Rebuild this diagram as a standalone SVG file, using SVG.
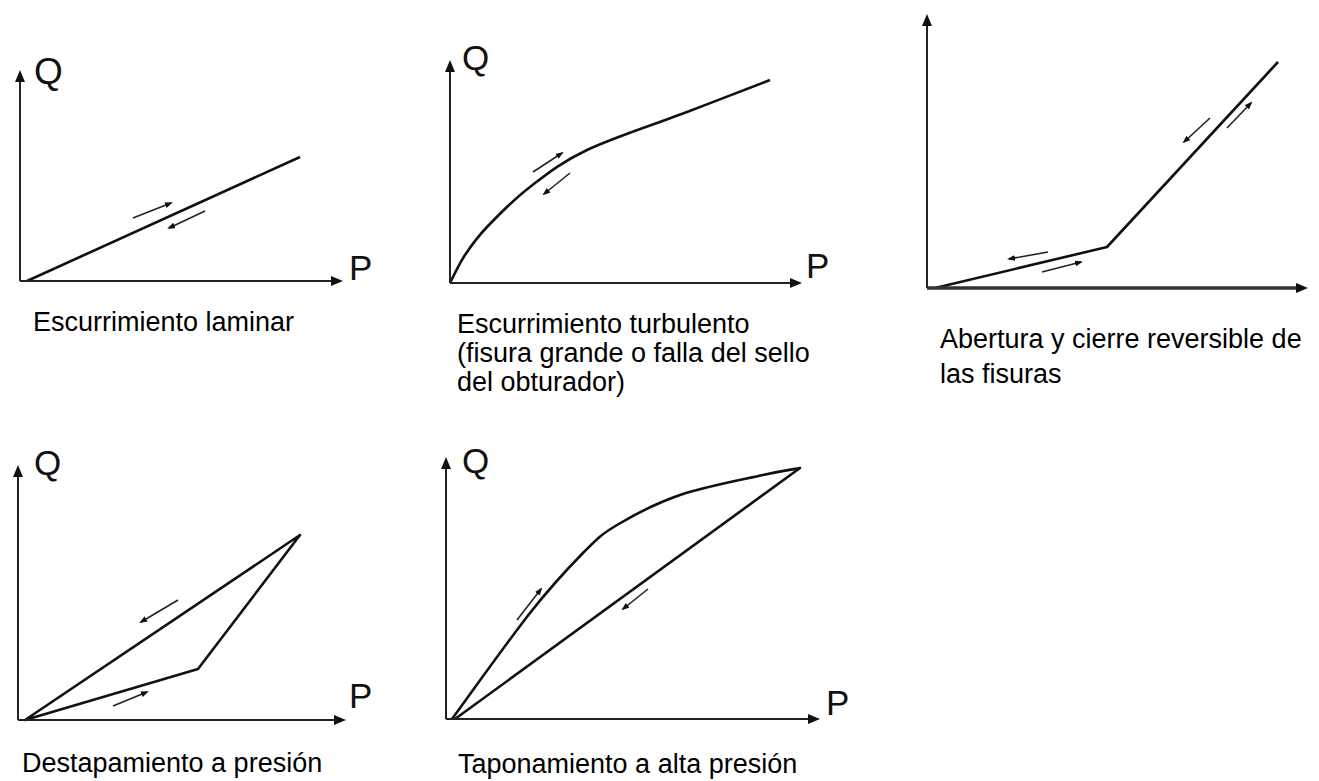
<svg xmlns="http://www.w3.org/2000/svg" width="1319" height="781" viewBox="0 0 1319 781">
<defs>
<style>
.bg{fill:#ffffff}
.axis{stroke:#222;stroke-width:2;fill:none}
.axis3{stroke:#333;stroke-width:3.5;fill:none}
.curve{stroke:#111;stroke-width:2.6;fill:none;stroke-linejoin:round}
.small{stroke:#222;stroke-width:1.6;fill:none}
.lbl{font-family:"Liberation Sans",Arial,sans-serif;font-size:27px;fill:#000}
.ax{font-family:"Liberation Sans",Arial,sans-serif;font-size:35px;fill:#111}
</style>
<marker id="ah" viewBox="0 0 12 10" refX="8" refY="5" markerWidth="12" markerHeight="10" markerUnits="userSpaceOnUse" orient="auto">
<path d="M0,0 L12,5 L0,10 z" fill="#111"/>
</marker>
<marker id="sh" viewBox="0 0 8 6" refX="6" refY="3" markerWidth="8" markerHeight="6" markerUnits="userSpaceOnUse" orient="auto">
<path d="M0,0 L8,3 L0,6 z" fill="#111"/>
</marker>
</defs>
<rect class="bg" x="0" y="0" width="1319" height="781"/>

<g id="panel1">
<text class="ax" x="34" y="84" style="font-size:37px">Q</text>
<text class="ax" x="349" y="280">P</text>
<path class="curve" d="M27,281 L300,157"/>
<text class="lbl" x="33" y="331">Escurrimiento laminar</text>
</g>

<g id="panel2">
<text class="ax" x="462" y="70">Q</text>
<text class="ax" x="806" y="278">P</text>
<path class="curve" d="M450,283 C452.5,278.3 458.8,264.3 465,255 C471.2,245.7 476.2,238.3 487,227 C497.8,215.7 513.3,199.8 530,187 C546.7,174.2 560.8,162.5 587,150 C613.2,137.5 656.5,123.7 687,112 C717.5,100.3 756.2,85.3 770,80"/>
<text class="lbl" x="457" y="333">Escurrimiento turbulento</text>
<text class="lbl" x="457" y="362">(fisura grande o falla del sello</text>
<text class="lbl" x="457" y="391">del obturador)</text>
</g>

<g id="panel3">
<path class="curve" d="M935,288 L1107,247 L1278,62"/>
<text class="lbl" x="940" y="348">Abertura y cierre reversible de</text>
<text class="lbl" x="940" y="383">las fisuras</text>
</g>

<g id="panel4">
<text class="ax" x="34" y="475">Q</text>
<text class="ax" x="349" y="708">P</text>
<path class="curve" d="M25,720 L198,669 L300,535 Z"/>
<text class="lbl" x="22" y="772">Destapamiento a presión</text>
</g>

<g id="panel5">
<text class="ax" x="462" y="473">Q</text>
<text class="ax" x="826" y="715">P</text>
<path class="curve" d="M452,719 C465,701.3 508.2,640.7 530,613 C551.8,585.3 568.5,567.7 583,553 C597.5,538.3 600.8,534.7 617,525 C633.2,515.3 655.7,503.3 680,495 C704.3,486.7 743,479.5 763,475 C783,470.5 793.8,469.2 800,468 L455,719"/>
<text class="lbl" x="458" y="773">Taponamiento a alta presión</text>
</g>

<g id="connectors">
<line class="axis" x1="20" y1="281" x2="20" y2="74" marker-end="url(#ah)"/>
<line class="axis" x1="20" y1="281" x2="339" y2="281" marker-end="url(#ah)"/>
<line class="axis" x1="450" y1="283" x2="450" y2="64" marker-end="url(#ah)"/>
<line class="axis" x1="450" y1="283" x2="798" y2="283" marker-end="url(#ah)"/>
<line class="axis" x1="927" y1="288" x2="927" y2="18" marker-end="url(#ah)"/>
<line class="axis3" x1="927" y1="288" x2="1304" y2="288" marker-end="url(#ah)"/>
<line class="axis" x1="18" y1="720" x2="18" y2="469" marker-end="url(#ah)"/>
<line class="axis" x1="18" y1="720" x2="342" y2="720" marker-end="url(#ah)"/>
<line class="axis" x1="446" y1="719" x2="446" y2="461" marker-end="url(#ah)"/>
<line class="axis" x1="446" y1="719" x2="816" y2="719" marker-end="url(#ah)"/>
<line class="small" x1="133" y1="218" x2="171" y2="203" marker-end="url(#sh)"/>
<line class="small" x1="205" y1="211" x2="169" y2="228" marker-end="url(#sh)"/>
<line class="small" x1="533" y1="172" x2="562" y2="153" marker-end="url(#sh)"/>
<line class="small" x1="570" y1="173" x2="544" y2="194" marker-end="url(#sh)"/>
<line class="small" x1="1048" y1="252" x2="1009" y2="259" marker-end="url(#sh)"/>
<line class="small" x1="1042" y1="272" x2="1081" y2="262" marker-end="url(#sh)"/>
<line class="small" x1="1210" y1="118" x2="1184" y2="142" marker-end="url(#sh)"/>
<line class="small" x1="1227" y1="128" x2="1251" y2="103" marker-end="url(#sh)"/>
<line class="small" x1="178" y1="600" x2="141" y2="622" marker-end="url(#sh)"/>
<line class="small" x1="113" y1="706" x2="147" y2="692" marker-end="url(#sh)"/>
<line class="small" x1="517" y1="620" x2="541" y2="589" marker-end="url(#sh)"/>
<line class="small" x1="648" y1="589" x2="623" y2="609" marker-end="url(#sh)"/>
</g>
</svg>
